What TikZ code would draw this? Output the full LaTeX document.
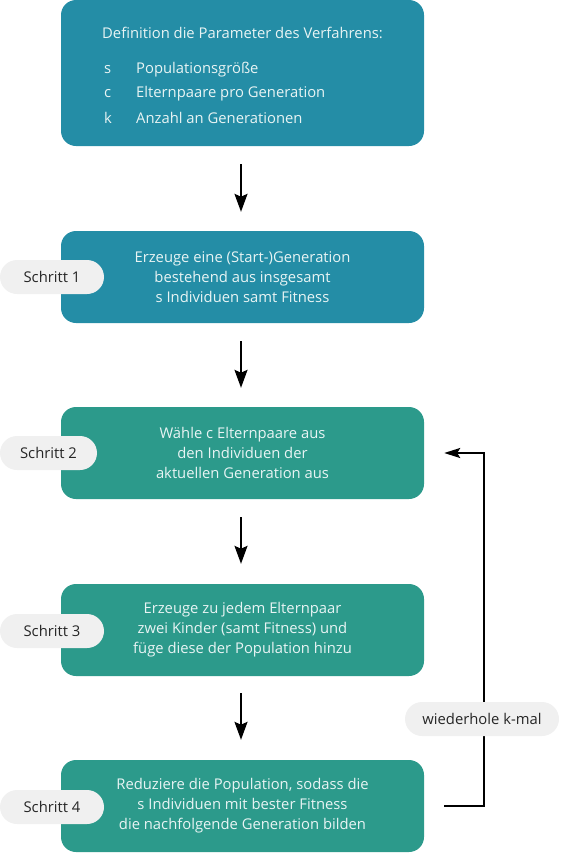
\documentclass[tikz,border=0pt]{standalone}
\usepackage{fontspec}
\setmainfont{Open Sans}
\usepackage{xcolor}
\usetikzlibrary{positioning,calc,arrows.meta}

\definecolor{stepblue}{RGB}{36,141,166}
\definecolor{stepgreen}{RGB}{44,154,139}
\definecolor{pillgrey}{RGB}{240,240,240}
\definecolor{boxtext}{RGB}{232,244,244}

\tikzset{
    stepbox/.style={rounded corners=15pt, minimum width=363pt, minimum height=92pt,
        text=boxtext, align=center, font=\fontsize{14.8}{20}\selectfont, inner sep=0pt},
    pill/.style={fill=pillgrey, rounded corners=17pt, minimum height=34pt,
        text=black!85, font=\fontsize{14.8}{18}\selectfont, inner sep=0pt},
    flow/.style={-{Stealth[length=18pt,width=13pt,inset=3pt]}, line width=2pt},
    backflow/.style={-{Stealth[length=16pt,width=10pt,inset=3pt]}, line width=2pt},
}

\begin{document}
\begin{tikzpicture}[x=1pt, y=-1pt]
    \useasboundingbox (0,0) rectangle (562,854);

    % Parameter
    \node[stepbox, fill=stepblue, minimum height=146pt] (params) at (242.5,73) {};
    \node[text=boxtext, font=\fontsize{14.8}{18}\selectfont] (title) at (242.5,32.5)
        {Definition die Parameter des Verfahrens:};
    \foreach \sym/\txt [count=\i] in {s/Populationsgröße, c/Elternpaare pro Generation, k/Anzahl an Generationen} {
        \node[text=boxtext, font=\fontsize{14.8}{18}\selectfont, anchor=west, inner sep=0pt] (sym\i) at (104,{45.5+24*\i}) {\sym};
        \node[text=boxtext, font=\fontsize{14.8}{18}\selectfont, anchor=west, inner sep=0pt] (par\i) at (136,{45.5+24*\i}) {\txt};
    }

    % Schritte
    \node[stepbox, fill=stepblue] (step1) at (242.5,277)
        {Erzeuge eine (Start-)Generation\\ bestehend aus insgesamt\\ s Individuen samt Fitness};
    \node[stepbox, fill=stepgreen] (step2) at (242.5,453)
        {Wähle c Elternpaare aus\\ den Individuen der\\ aktuellen Generation aus};
    \node[stepbox, fill=stepgreen] (step3) at (242.5,630)
        {Erzeuge zu jedem Elternpaar\\ zwei Kinder (samt Fitness) und\\ füge diese der Population hinzu};
    \node[stepbox, fill=stepgreen] (step4) at (242.5,806)
        {Reduziere die Population, sodass die\\ s Individuen mit bester Fitness\\ die nachfolgende Generation bilden};

    % Labels
    \node[pill, minimum width=104pt] (lab1) at (52,277) {Schritt 1};
    \node[pill, minimum width=97pt] (lab2) at (48.5,453) {Schritt 2};
    \node[pill, minimum width=104pt] (lab3) at (52,631) {Schritt 3};
    \node[pill, minimum width=104pt] (lab4) at (52,807) {Schritt 4};

    % Pfeile
    \coordinate (a0) at ($(params.south)+(-1.5,18)$);
    \coordinate (a1) at ($(step1.north)+(-1.5,-19)$);
    \draw[flow] (a0) -- (a1);
    \draw[flow] ($(step1.south)+(-1.5,18)$) -- ($(step2.north)+(-1.5,-19)$);
    \draw[flow] ($(step2.south)+(-1.5,18)$) -- ($(step3.north)+(-1.5,-20)$);
    \draw[flow] ($(step3.south)+(-1.5,17)$) -- ($(step4.north)+(-1.5,-20)$);

    % Schleife
    \coordinate (loopout) at ($(step4.east)+(20,0)$);
    \coordinate (loopin) at ($(step2.east)+(20,0)$);
    \draw[backflow] (loopout) -| (484,453) -- (loopin);
    \node[pill, minimum width=154pt] (repeat) at (482,719) {wiederhole k-mal};
\end{tikzpicture}
\end{document}
